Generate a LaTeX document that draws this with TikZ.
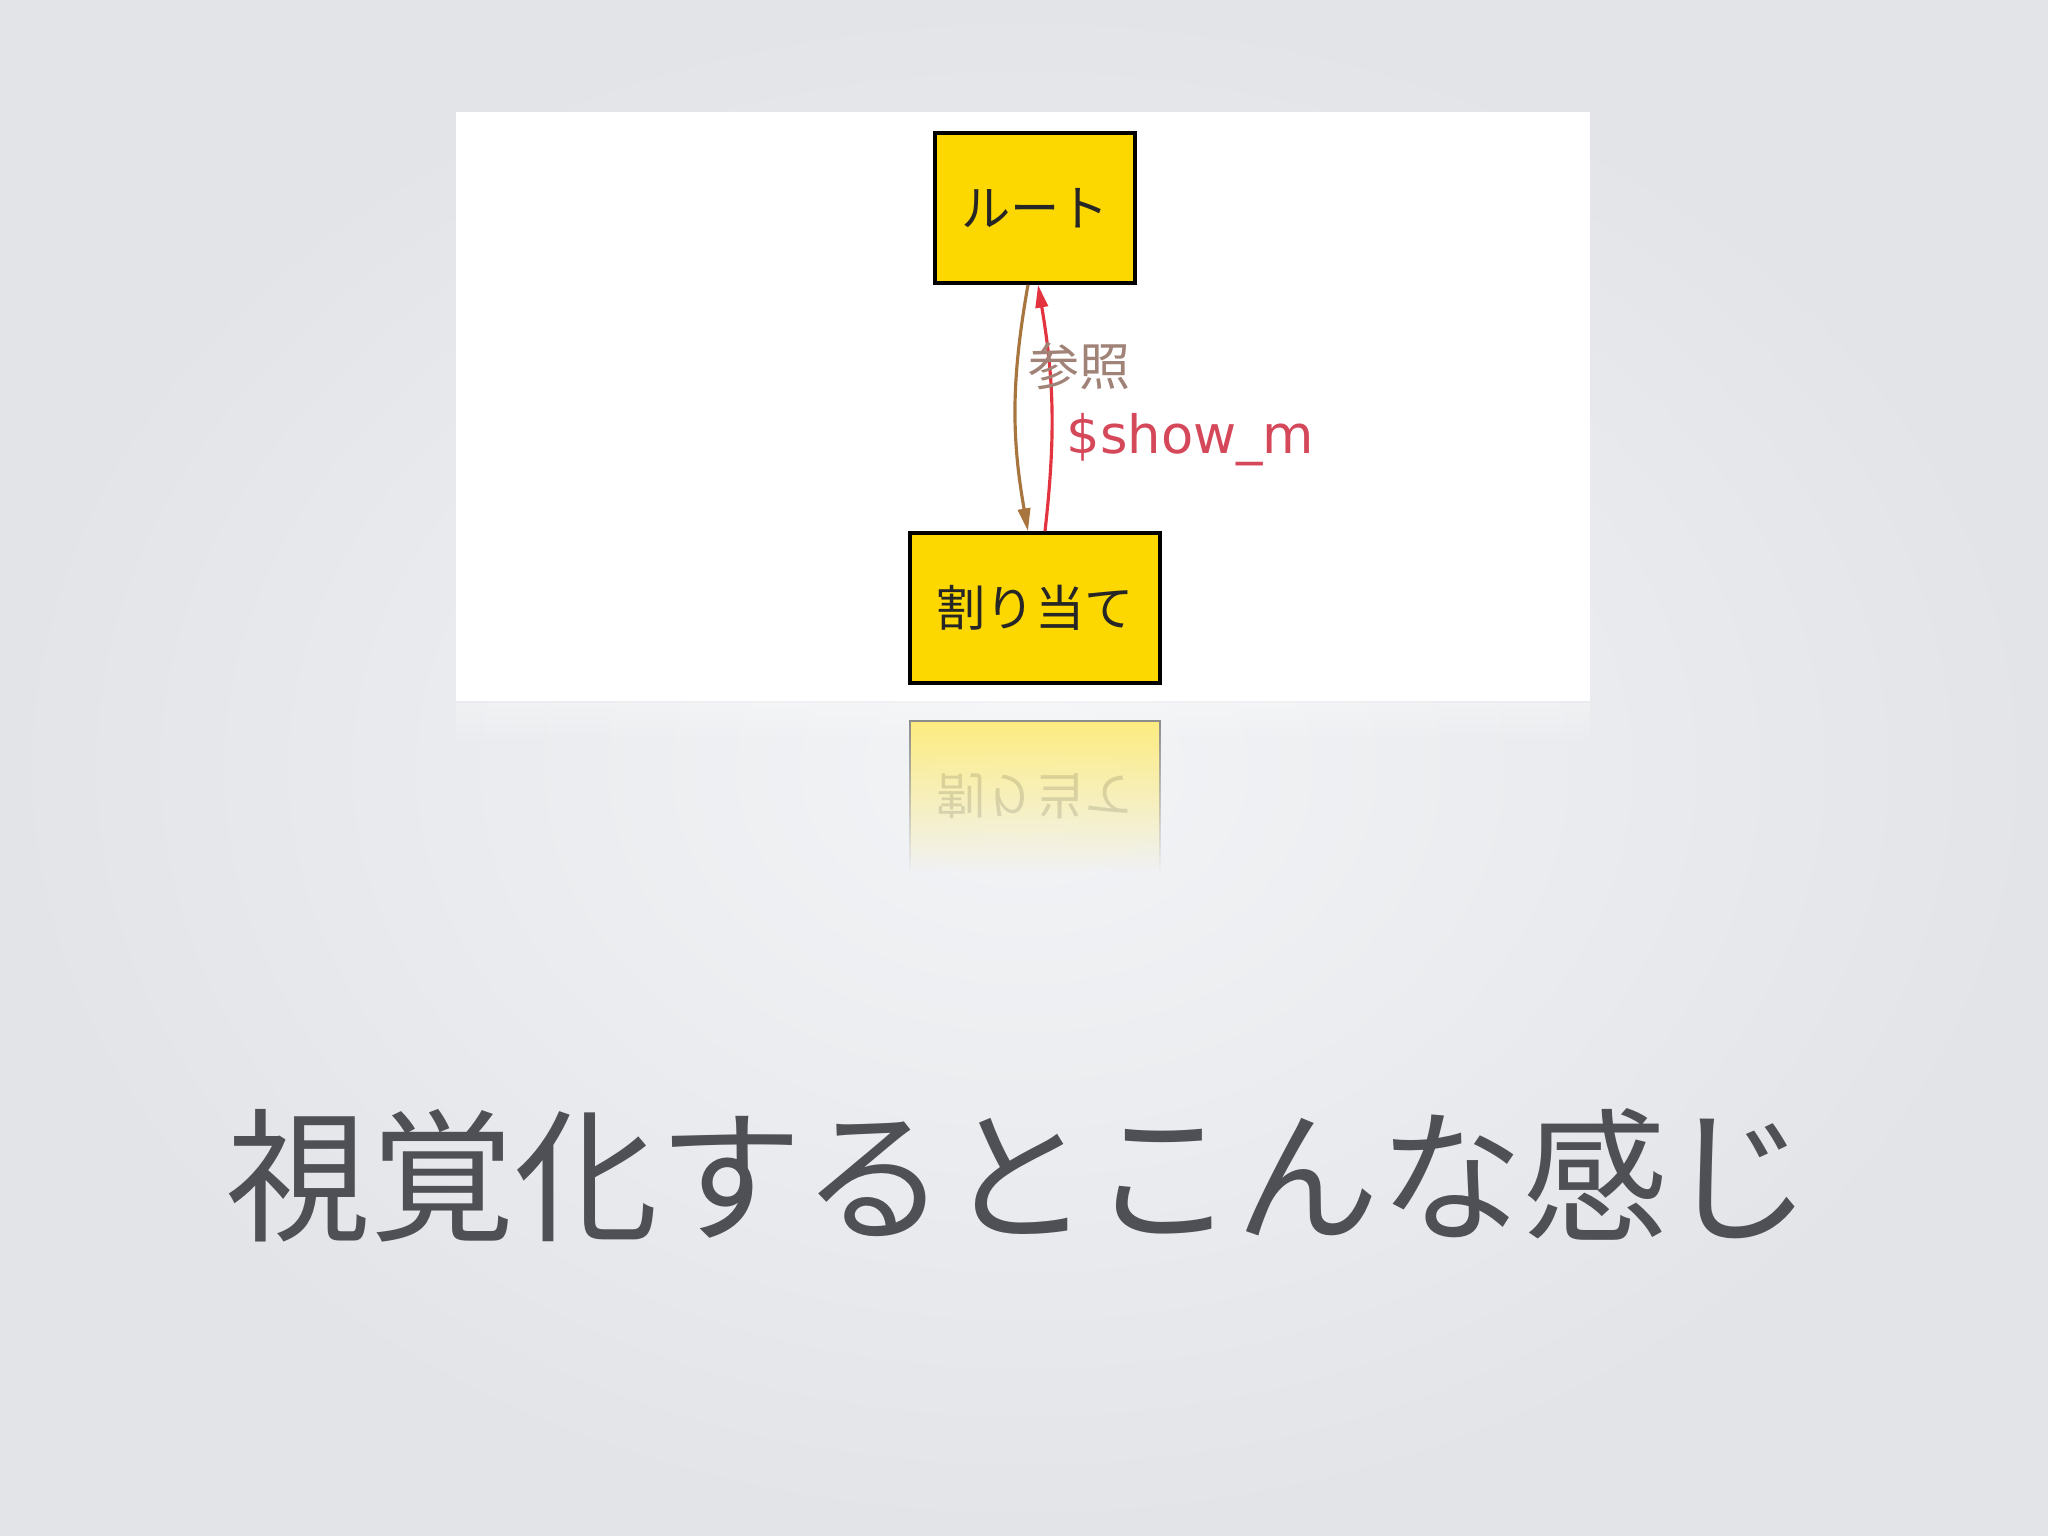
\documentclass[tikz,border=0pt]{standalone}
\usepackage{fontspec}
\newfontfamily\jpfont{Noto Sans CJK JP}
\newfontfamily\edgefont{DejaVu Sans}
\usepackage{xcolor}
\usetikzlibrary{arrows.meta,fadings}

\definecolor{slideouter}{HTML}{E2E4E8}
\definecolor{slideinner}{HTML}{F3F4F6}
\definecolor{boxgold}{HTML}{FCD800}
\definecolor{refbrown}{HTML}{A8753F}
\definecolor{reftext}{HTML}{A08276}
\definecolor{showred}{HTML}{E2333F}
\definecolor{showtext}{HTML}{D5485A}
\definecolor{titlegray}{HTML}{4F5055}

\begin{document}
\begin{tikzpicture}[x=0.01cm, y=0.01cm,
    box/.style={draw=black, line width=1pt, fill=boxgold, inner sep=0pt,
        minimum height=1.5cm, text=black!85,
        font=\jpfont\fontsize{14}{14}\selectfont},
    refedge/.style={draw=refbrown, line width=0.9pt,
        -{Triangle[length=6.5pt,width=3.5pt]}},
    showedge/.style={draw=showred, line width=0.9pt,
        -{Triangle[length=6.5pt,width=3.5pt]}}]

    \useasboundingbox (0,0) rectangle (2048,1536);

    %% Slide background
    \shade[inner color=slideinner, outer color=slideouter] (0,0) rectangle (2048,1536);

    % White panel and its faint reflection
    \fill[white] (456,835) rectangle (1590,1424);
    \fill[white, path fading=south, fill opacity=0.3] (456,790) rectangle (1590,833);

    %% Graph
    \node[box, minimum width=2cm] (root) at (1035,1328) {ルート};
    \node[box, minimum width=2.5cm] (assign) at (1035,928) {割り当て};

    \draw[refedge] ([xshift=-0.07cm]root.south) to[bend right=10] ([xshift=-0.07cm]assign.north);
    \draw[showedge] ([xshift=0.1cm]assign.north) to[bend right=8] ([xshift=0.03cm]root.south);

    \node[text=reftext, font=\jpfont\fontsize{14.5}{14.5}\selectfont] (reflabel) at (1079,1170) {参照};
    \node[text=showtext, anchor=west, inner sep=0pt, font=\edgefont\fontsize{15}{15}\selectfont]
        (showlabel) at (1066,1096) {\$show\_m};

    %% Reflection of the lower box
    \fill[boxgold!50, path fading=south] (910,665) rectangle (1160,815);
    \draw[black!45, line width=0.8pt, path fading=south] (910,665) -- (910,815) -- (1160,815) -- (1160,665);
    \node[yscale=-1, transform shape, text=black, text opacity=0.12,
        font=\jpfont\fontsize{14}{14}\selectfont] (assignmirror) at (1035,740) {割り当て};

    %% Title
    \node[text=titlegray, font=\jpfont\fontsize{41}{41}\selectfont] (title) at (1019,361)
        {視覚化するとこんな感じ};

\end{tikzpicture}
\end{document}
